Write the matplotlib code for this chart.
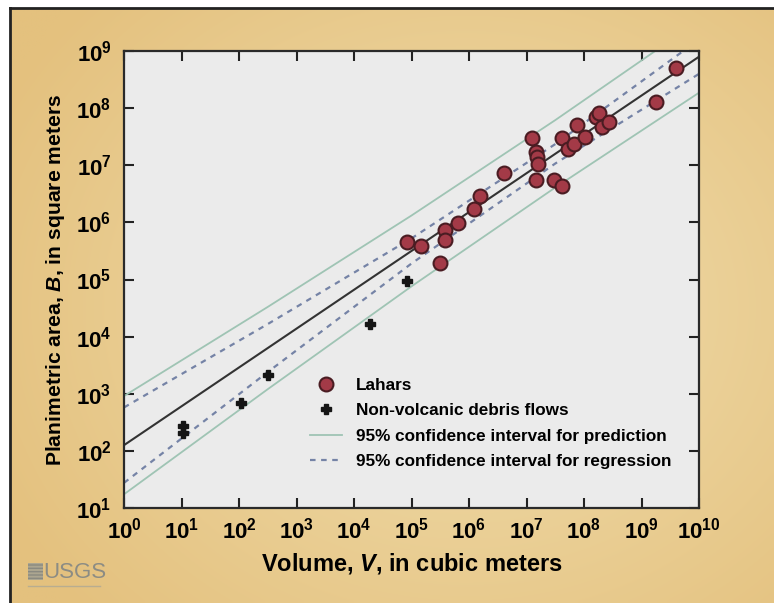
import numpy as np
import matplotlib
matplotlib.use('Agg')
import matplotlib.pyplot as plt
from matplotlib.patches import Rectangle
from matplotlib.lines import Line2D

plt.rcParams['font.family'] = ['Liberation Sans', 'DejaVu Sans']
plt.rcParams['font.weight'] = 'bold'
plt.rcParams['axes.labelweight'] = 'bold'
plt.rcParams['mathtext.fontset'] = 'custom'
plt.rcParams['mathtext.rm'] = 'Liberation Sans:bold'
plt.rcParams['mathtext.bf'] = 'Liberation Sans:bold'
plt.rcParams['mathtext.it'] = 'Liberation Sans:italic:bold'

# Lahars: volume V (m^3) and planimetric area B (m^2), read as log10 values
lahar_logV = [4.92, 5.16, 5.50, 5.58, 5.58, 5.81, 6.09, 6.19, 6.61, 7.09, 7.16, 7.19,
              7.20, 7.16, 7.48, 7.61, 7.61, 7.72, 7.83, 7.87, 8.02, 8.21, 8.26, 8.32,
              8.43, 9.26, 9.60]
lahar_logB = [5.65, 5.58, 5.29, 5.86, 5.70, 5.99, 6.23, 6.47, 6.87, 7.47, 7.23, 7.15,
              7.02, 6.75, 6.75, 6.64, 7.48, 7.28, 7.38, 7.71, 7.50, 7.84, 7.91, 7.67,
              7.76, 8.11, 8.70]

# Non-volcanic debris flows
debris_logV = [1.02, 1.03, 2.03, 2.51, 4.27, 4.93]
debris_logB = [2.44, 2.32, 2.83, 3.32, 4.22, 4.98]

# Regression line and intervals, log10 B read at these log10 V
fit_logV = [0.0, 2.5, 5.0, 7.5, 10.0]
fit_logB = [2.10, 3.80, 5.50, 7.20, 8.90]
pred_upper = [2.96, 4.52, 6.12, 7.79, 9.53]
pred_lower = [1.24, 3.08, 4.88, 6.61, 8.27]
conf_upper = [2.76, 4.22, 5.72, 7.37, 9.20]
conf_lower = [1.44, 3.38, 5.28, 7.03, 8.60]

x_ticks = list(range(0, 11))
y_ticks = list(range(1, 10))

W, H = 774, 603
fig = plt.figure(figsize=(W / 100, H / 100), dpi=100)
fig.patch.set_facecolor('white')

# tan slide background with soft radial gradient
bg = fig.add_axes([0, 0, 1, 1], zorder=-2)
bg.set_xlim(0, W)
bg.set_ylim(H, 0)
bg.axis('off')
yy, xx = np.mgrid[0:120, 0:160]
r = np.sqrt(((xx - 95) / 110.0) ** 2 + ((yy - 60) / 90.0) ** 2)
r = np.clip(r, 0, 1)
c_in = np.array([241, 222, 174]) / 255.0
c_out = np.array([228, 193, 126]) / 255.0
grad = c_in[None, None, :] * (1 - r[..., None]) + c_out[None, None, :] * r[..., None]
bg.imshow(grad, extent=[10, W, H, 8], aspect='auto', interpolation='bilinear')
bg.plot([10, 10], [8, H], color='#222222', lw=2)
bg.plot([10, W], [8, 8], color='#222222', lw=2)
# USGS mark
bg.add_patch(Rectangle((28, 563), 15, 17, facecolor='#aca690', edgecolor='#8a8a80',
                       hatch='-----', lw=0))
bg.text(43, 572, 'USGS', fontsize=16, color='#8c8c84', va='center', ha='left',
        fontweight='normal')
bg.plot([28, 100], [586, 586], color='#b8ad90', lw=1)

ax = fig.add_axes([124 / W, 1 - 508 / H, (699 - 124) / W, (508 - 51) / H])
ax.set_facecolor('#ebebeb')
ax.set_xscale('log')
ax.set_yscale('log')

fv = 10 ** np.array(fit_logV)
ax.plot(fv, 10 ** np.array(pred_upper), color='#9fc4b4', lw=1.3, zorder=2)
ax.plot(fv, 10 ** np.array(pred_lower), color='#9fc4b4', lw=1.3, zorder=2)
ax.plot(fv, 10 ** np.array(conf_upper), color='#7583a6', lw=1.6, ls=(0, (2.5, 2.5)), zorder=2)
ax.plot(fv, 10 ** np.array(conf_lower), color='#7583a6', lw=1.6, ls=(0, (2.5, 2.5)), zorder=2)
ax.plot(fv, 10 ** np.array(fit_logB), color='#333333', lw=1.5, zorder=2)

ax.plot(10 ** np.array(lahar_logV), 10 ** np.array(lahar_logB), 'o', ms=10,
        mfc='#a33a47', mec='#4a1c22', mew=1.5, ls='none', zorder=4)
ax.plot(10 ** np.array(debris_logV), 10 ** np.array(debris_logB), 'P', ms=7,
        color='#151515', ls='none', zorder=3)

ax.set_xlim(1, 1e10)
ax.set_ylim(10, 1e9)
ax.set_xticks([10.0 ** k for k in x_ticks])
ax.set_xticklabels([r'$10^{%d}$' % k for k in x_ticks])
ax.set_yticks([10.0 ** k for k in y_ticks])
ax.set_yticklabels([r'$10^{%d}$' % k for k in y_ticks])
ax.minorticks_off()
ax.tick_params(direction='in', length=7, width=1.5, top=True, right=True,
               labelsize=16, color='#222222', pad=7)
ax.tick_params(axis='y', pad=9)
for s in ax.spines.values():
    s.set_linewidth(1.6)
    s.set_color('#2a2a2a')

ax.set_xlabel(r'Volume, $\mathit{V}$, in cubic meters', fontsize=17)
ax.set_ylabel(r'Planimetric area, $\mathit{B}$, in square meters', fontsize=15.2)
ax.xaxis.set_label_coords(0.5, -(551 - 508) / 457)
ax.yaxis.set_label_coords(-(124 - 67) / 575, 0.5)

handles = [
    Line2D([], [], marker='o', ms=10, mfc='#a33a47', mec='#4a1c22', mew=1.5, ls='none'),
    Line2D([], [], marker='P', ms=7, color='#151515', ls='none'),
    Line2D([], [], color='#9fc4b4', lw=1.3),
    Line2D([], [], color='#7583a6', lw=1.6, ls=(0, (2.5, 2.5))),
]
labels = ['Lahars', 'Non-volcanic debris flows',
          '95% confidence interval for prediction', '95% confidence interval for regression']
ax.legend(handles, labels, loc='upper left', bbox_to_anchor=((310 - 124) / 575, (508 - 378) / 457),
          frameon=False, fontsize=12.3, handlelength=1.9, handletextpad=0.8,
          labelspacing=0.6, borderaxespad=0, borderpad=0)

fig.savefig('out.png', dpi=100)
